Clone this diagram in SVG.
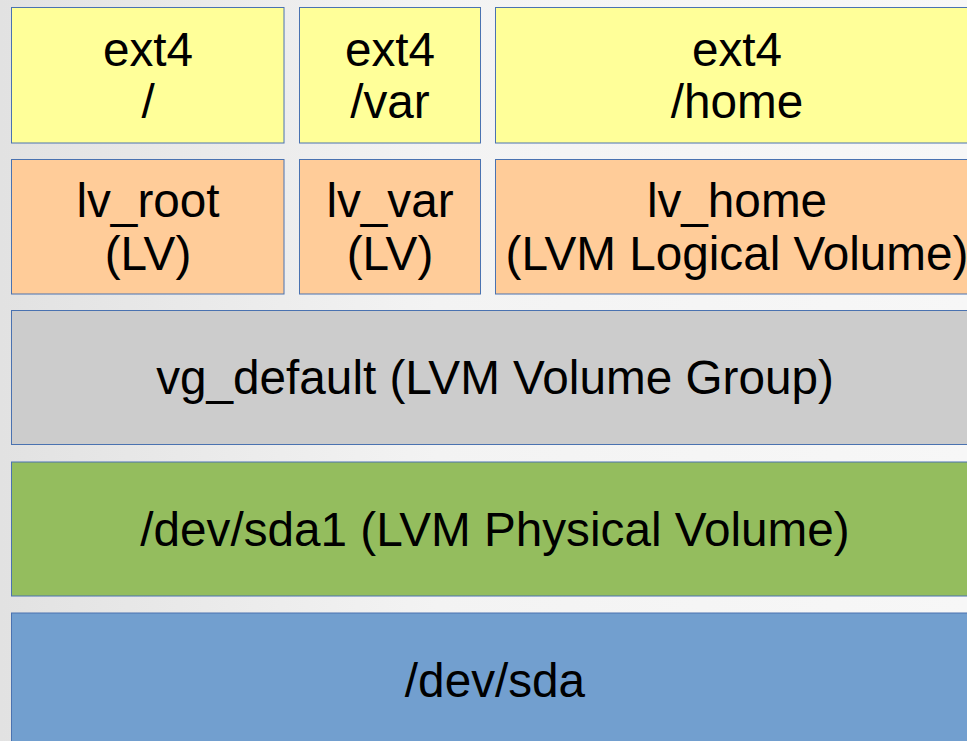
<svg xmlns="http://www.w3.org/2000/svg" width="967" height="741" viewBox="0 0 967 741">
  <defs>
    <linearGradient id="bg" x1="0" y1="0" x2="1" y2="0">
      <stop offset="0" stop-color="#e2e2e2"/>
      <stop offset="0.45" stop-color="#f3f3f3"/>
      <stop offset="1" stop-color="#f7f7f7"/>
    </linearGradient>
  </defs>
  <style>
    .box { stroke: #4a72b0; stroke-width: 1; }
    .fs { fill: #ffff99; }
    .lv { fill: #ffcc99; }
    .vg { fill: #cccccc; }
    .pv { fill: #94bd5e; }
    .disk { fill: #729fcf; }
    text { font-family: "Liberation Sans", Arial, sans-serif; font-size: 47.7px; fill: #000; text-anchor: middle; }
  </style>
  <rect x="0" y="0" width="967" height="741" fill="url(#bg)"/>

  <!-- filesystems -->
  <g id="fs_root">
    <rect class="box fs" x="11.5" y="7.5" width="272.5" height="135.5"/>
    <text x="148" y="65.5">ext4</text>
    <text x="148" y="118">/</text>
  </g>
  <g id="fs_var">
    <rect class="box fs" x="299.5" y="7.5" width="181" height="135.5"/>
    <text x="390" y="65.5">ext4</text>
    <text x="390" y="118">/var</text>
  </g>
  <g id="fs_home">
    <rect class="box fs" x="495.5" y="7.5" width="483" height="135.5"/>
    <text x="737" y="65.5">ext4</text>
    <text x="737" y="118">/home</text>
  </g>

  <!-- logical volumes -->
  <g id="lv_root">
    <rect class="box lv" x="11.5" y="159.5" width="272.5" height="134.5"/>
    <text x="148" y="217">lv_root</text>
    <text x="148" y="269.5">(LV)</text>
  </g>
  <g id="lv_var">
    <rect class="box lv" x="299.5" y="159.5" width="181" height="134.5"/>
    <text x="390" y="217">lv_var</text>
    <text x="390" y="269.5">(LV)</text>
  </g>
  <g id="lv_home">
    <rect class="box lv" x="495.5" y="159.5" width="483" height="134.5"/>
    <text x="737" y="217">lv_home</text>
    <text x="737" y="269.5">(LVM Logical Volume)</text>
  </g>

  <!-- volume group -->
  <g id="vg_default">
    <rect class="box vg" x="11.5" y="310.5" width="967" height="134"/>
    <text x="495" y="394">vg_default (LVM Volume Group)</text>
  </g>

  <!-- physical volume -->
  <g id="pv_sda1">
    <rect class="box pv" x="11.5" y="462" width="967" height="134"/>
    <text x="495" y="546">/dev/sda1 (LVM Physical Volume)</text>
  </g>

  <!-- disk -->
  <g id="disk_sda">
    <rect class="box disk" x="11.5" y="613" width="967" height="140"/>
    <text x="495" y="697">/dev/sda</text>
  </g>

  <g id="connectors"/>
</svg>
